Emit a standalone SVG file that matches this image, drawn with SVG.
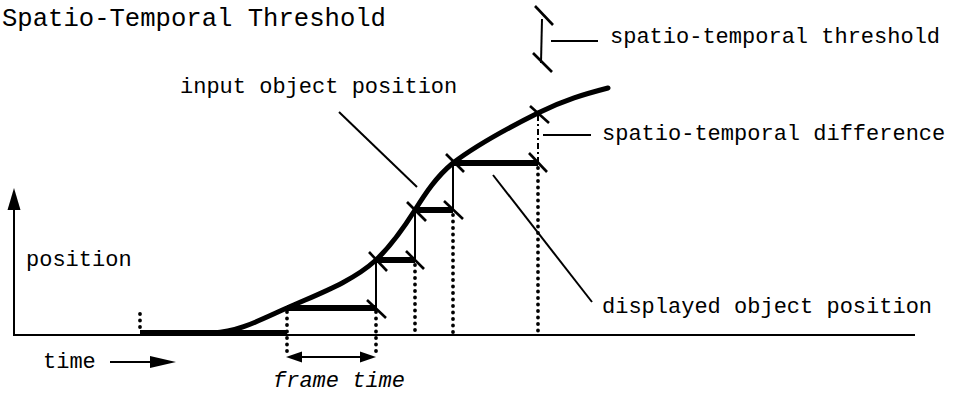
<svg xmlns="http://www.w3.org/2000/svg" width="955" height="393" viewBox="0 0 955 393">
<style>
text{font-family:"Liberation Mono","Courier New",monospace;font-size:22px;fill:#000}
.title{font-size:25.6px}
.it{font-style:italic}
.thin{stroke:#000;stroke-width:2;fill:none}
.lead{stroke:#000;stroke-width:2;fill:none}
.bar{stroke:#000;stroke-width:6;fill:none}
.curve{stroke:#000;stroke-width:5;fill:none;stroke-linecap:round}
.tick{stroke:#000;stroke-width:2.6;fill:none}
.dot{stroke:#000;stroke-width:3.8;fill:none;stroke-linecap:round;stroke-dasharray:0 6.5}
.dashdot{stroke:#000;stroke-width:2;fill:none;stroke-dasharray:6 3 2 3}
.head{fill:#000}
</style>
<rect width="955" height="393" fill="#fff"/>
<g id="axes">
<line class="thin" x1="14" y1="205" x2="14" y2="335"/>
<polygon class="head" points="14,188 7.5,210 20.5,210"/>
<line class="thin" x1="13" y1="335" x2="915" y2="335"/>
</g>
<g id="curve">
<path class="curve" d="M213,333 C238,332 260,320 287,308 C318,294 352,282 376,260 C392,245 403,229 415,210 C425,194 436,177 453,163 C474,147 512,126 538,113 C564,100 585,94 608,88"/>
</g>
<g id="displayed">
<line class="bar" x1="140" y1="333" x2="287" y2="333"/>
<line class="bar" x1="287" y1="308" x2="376" y2="308"/>
<line class="bar" x1="376" y1="260" x2="415" y2="260"/>
<line class="bar" x1="415" y1="210" x2="453" y2="210"/>
<line class="bar" x1="453" y1="163" x2="538" y2="163"/>
</g>
<g id="connectors">
<line class="thin" x1="376" y1="308" x2="376" y2="260"/>
<line class="thin" x1="415" y1="260" x2="415" y2="210"/>
<line class="thin" x1="453" y1="210" x2="453" y2="163"/>
<line class="dashdot" x1="538" y1="115" x2="538" y2="162"/>
<line class="dot" x1="140" y1="314" x2="140" y2="333"/>
<line class="dot" x1="287" y1="312" x2="287" y2="357"/>
<line class="dot" x1="376" y1="312" x2="376" y2="357"/>
<line class="dot" x1="415" y1="265" x2="415" y2="335"/>
<line class="dot" x1="453" y1="215" x2="453" y2="335"/>
<line class="dot" x1="538" y1="168" x2="538" y2="335"/>
<line class="tick" x1="367" y1="300" x2="386" y2="318"/>
<line class="tick" x1="369" y1="252" x2="387" y2="271"/>
<line class="tick" x1="406" y1="251" x2="424" y2="269"/>
<line class="tick" x1="407" y1="202" x2="426" y2="221"/>
<line class="tick" x1="444" y1="201" x2="463" y2="219"/>
<line class="tick" x1="446" y1="154" x2="464" y2="172"/>
<line class="tick" x1="529" y1="153" x2="547" y2="172"/>
<line class="tick" x1="530" y1="106" x2="549" y2="123"/>
<line class="tick" x1="535" y1="6" x2="553" y2="25"/>
<line class="tick" x1="533" y1="53" x2="552" y2="72"/>
<line class="thin" x1="542" y1="19" x2="541" y2="63"/>
<line class="lead" x1="551" y1="41" x2="598" y2="41"/>
<line class="lead" x1="543" y1="135" x2="591" y2="135"/>
<line class="lead" x1="339" y1="112" x2="417" y2="187"/>
<line class="lead" x1="493" y1="175" x2="592" y2="302"/>
<line class="thin" x1="300" y1="357" x2="362" y2="357"/>
<polygon class="head" points="286,357 302,351.5 302,362.5"/>
<polygon class="head" points="376,357 360,351.5 360,362.5"/>
<line class="thin" x1="110" y1="362" x2="155" y2="362"/>
<polygon class="head" points="176,362 150,356 150,368"/>
</g>
<g id="title"><text class="title" x="2" y="26">Spatio-Temporal Threshold</text></g>
<g id="label-threshold"><text x="610" y="43">spatio-temporal threshold</text></g>
<g id="label-input"><text x="180" y="93">input object position</text></g>
<g id="label-difference"><text x="602" y="140">spatio-temporal difference</text></g>
<g id="label-position"><text x="26" y="266">position</text></g>
<g id="label-displayed"><text x="602" y="313">displayed object position</text></g>
<g id="label-time"><text x="43" y="368">time</text></g>
<g id="label-frame"><text class="it" x="273" y="387">frame time</text></g>
</svg>
